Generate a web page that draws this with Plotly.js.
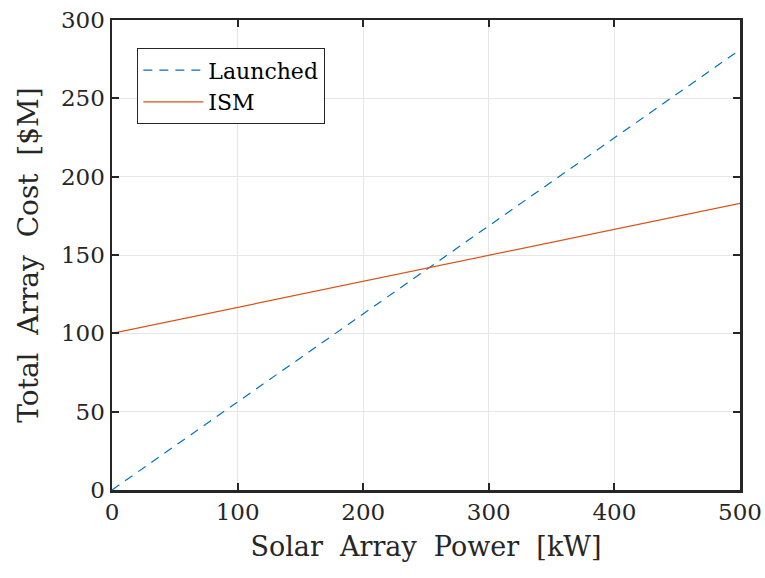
<!DOCTYPE html>
<html><head><meta charset="utf-8">
<script src="https://cdn.plot.ly/plotly-3.0.1.min.js"></script>
<style>html,body{margin:0;padding:0;background:#fff;}#plot{width:765px;height:578px;}</style>
</head><body><div id="plot"></div>
<script>
const powerKW = [0, 500];
const launchedCost = [0, 281];
const ismCost = [100, 183];
const seriesNames = ['Launched', 'ISM'];
const xTitle = 'Solar Array Power [kW]';
const yTitle = 'Total Array Cost [$M]';

const font = 'DejaVu Serif, serif';
const wide = s => s.split(' ').join(' \u00a0');
const traces = [
  {x: powerKW, y: launchedCost, name: seriesNames[0], mode: 'lines',
   line: {color: '#0072BD', width: 1.2, dash: '9px,7px'}},
  {x: powerKW, y: ismCost, name: seriesNames[1], mode: 'lines',
   line: {color: '#D95319', width: 1.2}}
];
const axisCommon = {
  showline: true, linecolor: '#262626', linewidth: 2.5, mirror: 'ticks',
  ticks: 'inside', ticklen: 7, tickwidth: 2, tickcolor: '#262626',
  showgrid: true, gridcolor: '#e6e6e6', gridwidth: 1, zeroline: false,
  tickfont: {family: font, size: 23, color: '#262626'}
};
const layout = {
  width: 765, height: 578,
  margin: {l: 112, r: 25, t: 20, b: 88},
  paper_bgcolor: '#fff', plot_bgcolor: '#fff',
  showlegend: true,
  legend: {x: 0.04, y: 0.94, xanchor: 'left', yanchor: 'top',
    bgcolor: '#fff', bordercolor: '#262626', borderwidth: 1.2,
    font: {family: font, size: 22, color: '#000'}, tracegroupgap: 0,
    itemwidth: 60},
  xaxis: Object.assign({}, axisCommon, {range: [0, 500], dtick: 100,
    title: {text: wide(xTitle), font: {family: font, size: 27, color: '#262626'}, standoff: 13}}),
  yaxis: Object.assign({}, axisCommon, {range: [0, 300], dtick: 50,
    title: {text: wide(yTitle), font: {family: font, size: 28, color: '#262626'}, standoff: 14}})
};
Plotly.newPlot('plot', traces, layout, {displayModeBar: false, staticPlot: true});
</script></body></html>
